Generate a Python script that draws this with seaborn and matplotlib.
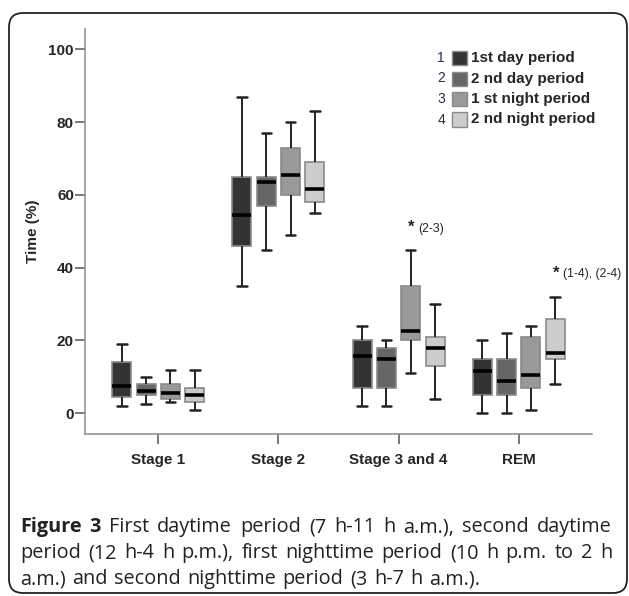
import pandas as pd
import matplotlib
matplotlib.use("Agg")
import matplotlib.pyplot as plt
from matplotlib.patches import FancyBboxPatch, Rectangle
import seaborn as sns

# --- dados: resumo de 5 numeros (min, Q1, mediana, Q3, max) por estagio ---
stages = ["Stage 1", "Stage 2", "Stage 3 and 4", "REM"]
periods = ["1st day period", "2 nd day period", "1 st night period", "2 nd night period"]
day1 = [[2, 4.4, 7.5, 14, 19], [35, 46, 54.6, 65, 87], [2, 7, 15.6, 20, 24], [0, 5, 11.5, 15, 20]]
day2 = [[2.5, 5, 6, 8, 10], [45, 57, 63.6, 65, 77], [2, 7, 15, 18, 20], [0, 5, 9, 15, 22]]
night1 = [[3, 4, 5.5, 8, 12], [49, 60, 65.5, 73, 80], [11, 20, 22.5, 35, 45], [1, 7, 10.5, 21, 24]]
night2 = [[1, 3, 5, 7, 12], [55, 58, 61.5, 69, 83], [4, 13, 18, 21, 30], [8, 15, 16.5, 26, 32]]
colors = ["#333333", "#666666", "#999999", "#cccccc"]

caption = [
    "First daytime period (7 h-11 h a.m.), second daytime",
    "period (12 h-4 h p.m.), first nighttime period (10 h p.m. to 2 h",
    "a.m.) and second nighttime period (3 h-7 h a.m.).",
]

# monta tabela longa: 5 pontos por caixa reproduzem exatamente os quartis
rows = []
for per, summ in zip(periods, [day1, day2, night1, night2]):
    for st, vals in zip(stages, summ):
        for v in vals:
            rows.append({"stage": st, "period": per, "value": v})
df = pd.DataFrame(rows)

sns.set_style("white")
plt.rcParams["font.family"] = ["Liberation Sans", "DejaVu Sans"]

fig = plt.figure(figsize=(6.29, 5.96), dpi=100)
ax = fig.add_axes([85 / 629, 1 - 434 / 596, 507 / 629, 405 / 596])

sns.boxplot(data=df, x="stage", y="value", hue="period", order=stages, hue_order=periods,
            palette=colors, saturation=1, whis=(0, 100), width=0.81, gap=0.22,
            linewidth=1.4, fliersize=0, legend=False, ax=ax,
            boxprops=dict(edgecolor="#8a8a8a", linewidth=1.2),
            whiskerprops=dict(color="#222222", linewidth=1.4),
            capprops=dict(color="#222222", linewidth=1.8),
            medianprops=dict(color="black", linewidth=2.6))

ax.set_xlim(-0.61, 3.61)
ax.set_ylim(-5.7, 105.6)
ax.set_yticks([0, 20, 40, 60, 80, 100])
ax.set_xlabel("")
ax.set_ylabel("Time (%)", fontsize=11, fontweight="bold", labelpad=6)
for s in ["top", "right"]:
    ax.spines[s].set_visible(False)
for s in ["left", "bottom"]:
    ax.spines[s].set_color("#8c8c8c")
    ax.spines[s].set_linewidth(1.1)
ax.tick_params(axis="both", direction="out", length=7, width=1.1, color="#555555",
               labelsize=11, left=True, bottom=True)
ax.tick_params(axis="y", pad=1)
ax.tick_params(axis="x", pad=7)
for lab in ax.get_yticklabels() + ax.get_xticklabels():
    lab.set_fontweight("bold")

# anotacoes de significancia
ax.text(2.105, 51.0, "*", fontsize=12, fontweight="bold", ha="center", va="center")
ax.text(2.16, 50.6, "(2-3)", fontsize=8.8, ha="left", va="center")
ax.text(3.31, 38.6, "*", fontsize=12, fontweight="bold", ha="center", va="center")
ax.text(3.37, 38.2, "(1-4), (2-4)", fontsize=8.8, ha="left", va="center")

# legenda manual
for i, (per, c) in enumerate(zip(periods, colors)):
    yc = 58 + i * 20.5
    fig.text(441 / 629, 1 - yc / 596, str(i + 1), fontsize=10, color="#1f3050",
             ha="center", va="center")
    fig.patches.append(Rectangle((452 / 629, 1 - (yc + 7) / 596), 15 / 629, 14 / 596,
                                 facecolor=c, edgecolor="#8a8a8a", linewidth=1,
                                 transform=fig.transFigure, figure=fig))
    fig.text(471 / 629, 1 - yc / 596, per, fontsize=11, fontweight="bold",
             ha="left", va="center")

# moldura arredondada
fig.patches.append(FancyBboxPatch((0.09, 0.03), 6.18, 5.80,
                                  boxstyle="round,pad=0,rounding_size=0.14",
                                  facecolor="none", edgecolor="#222222", linewidth=1.3,
                                  transform=fig.dpi_scale_trans, figure=fig))

# legenda da figura, justificada
cap_font = "Open Sans"
fig.canvas.draw()
renderer = fig.canvas.get_renderer()
baselines = [532, 558, 584]
x0, x1 = 20, 612
for li, line in enumerate(caption):
    words = line.split(" ")
    items = [(w, "normal") for w in words]
    if li == 0:
        items = [("Figure", "bold"), ("3", "bold")] + items
    texts = []
    for w, fw in items:
        t = fig.text(0, 1 - baselines[li] / 596, w, fontsize=14.3, fontweight=fw,
                     family=cap_font, ha="left", va="baseline", color="#222222")
        texts.append(t)
    widths = [t.get_window_extent(renderer).width for t in texts]
    if li < 2:
        gap = (x1 - x0 - sum(widths)) / (len(texts) - 1)
    else:
        gap = 6.5
    x = x0
    for t, w in zip(texts, widths):
        t.set_x(x / 629)
        x += w + gap

fig.savefig("out.png", dpi=100)
